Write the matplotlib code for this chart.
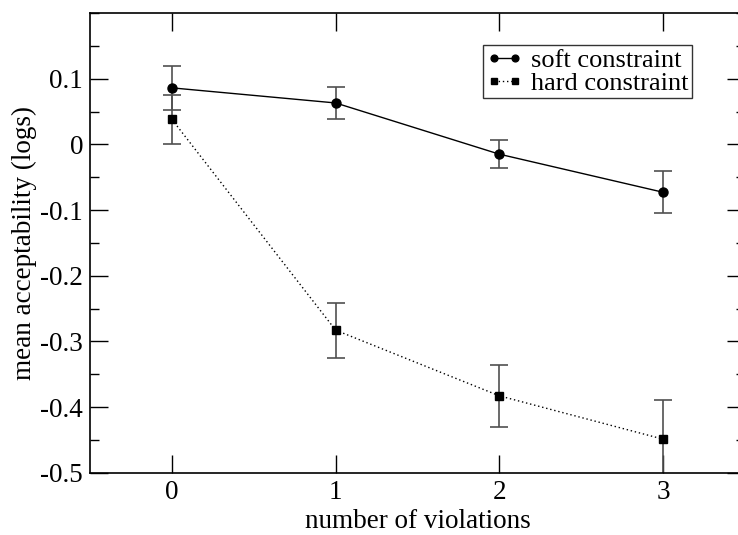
import numpy as np
import matplotlib
matplotlib.use("Agg")
import matplotlib.pyplot as plt
from matplotlib.ticker import MultipleLocator

plt.rcParams['font.family'] = ['Liberation Serif', 'DejaVu Serif']

violations = [0, 1, 2, 3]
soft_mean = [0.086, 0.063, -0.015, -0.073]
soft_err = [0.033, 0.025, 0.021, 0.032]
hard_mean = [0.038, -0.283, -0.383, -0.449]
hard_err = [0.037, 0.042, 0.047, 0.059]

fig = plt.figure(figsize=(7.38, 5.35), dpi=100)
ax = fig.add_axes([0.122, 0.1165, 0.8875, 0.8592])

# error bars first so markers sit on top
ax.errorbar(violations, soft_mean, yerr=soft_err, fmt='none', ecolor='#505050',
            elinewidth=1.2, capsize=6.5, capthick=1.2, zorder=2)
ax.errorbar(violations, hard_mean, yerr=hard_err, fmt='none', ecolor='#505050',
            elinewidth=1.2, capsize=6.5, capthick=1.2, zorder=2)

ax.plot(violations, soft_mean, color='black', lw=1.0, marker='o', ms=6.5,
        label='soft constraint', zorder=3)
ax.plot(violations, hard_mean, color='black', lw=1.0, ls=(0, (1, 2)), marker='s',
        ms=5.3, label='hard constraint', zorder=3)

ax.set_xlim(-0.5, 3.5)
ax.set_ylim(-0.5, 0.2)
ax.xaxis.set_major_locator(MultipleLocator(1))
ax.yaxis.set_minor_locator(MultipleLocator(0.05))
ax.set_yticks([0.1, 0, -0.1, -0.2, -0.3, -0.4, -0.5])
ax.set_yticklabels(['0.1', '0', '-0.1', '-0.2', '-0.3', '-0.4', '-0.5'])

ax.tick_params(which='both', direction='in', top=True, right=True, labelsize=19.5, width=1)
ax.tick_params(which='major', length=13, pad=5)
ax.tick_params(which='minor', length=6.5)
ax.tick_params(axis='x', which='minor', bottom=False, top=False)
for s in ax.spines.values():
    s.set_linewidth(1.2)

ax.set_xlabel('number of violations', fontsize=19.5, labelpad=3)
ax.set_ylabel('mean acceptability (logs)', fontsize=19.5, labelpad=2)

leg = ax.legend(loc='upper left', bbox_to_anchor=(0.6, 0.93), numpoints=2,
                fontsize=19, frameon=True, fancybox=False, handlelength=1.4,
                handletextpad=0.3, borderpad=0.12, labelspacing=0.0,
                borderaxespad=0, markerscale=0.75)
leg.get_frame().set_edgecolor('black')
leg.get_frame().set_linewidth(1.0)

fig.savefig('out.png', dpi=100)
